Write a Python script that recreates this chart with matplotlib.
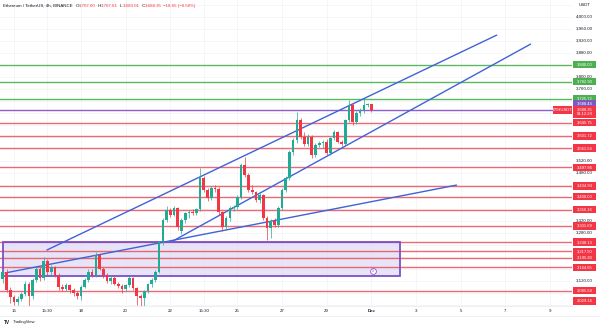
import matplotlib
matplotlib.use('Agg')
import matplotlib.pyplot as plt
import matplotlib.transforms as mtransforms
from matplotlib.patches import Rectangle

# ---------------- data ----------------
opens = [3168, 3125, 3150, 3090, 3065, 3050, 3060, 3075, 3110, 3068,
         3122, 3160, 3128, 3185, 3148, 3165, 3140, 3100, 3092, 3105,
         3088, 3078, 3070, 3100, 3122, 3150, 3138, 3205, 3160, 3138,
         3118, 3128, 3110, 3102, 3092, 3105, 3128, 3095, 3068, 3062,
         3085, 3108, 3122, 3150, 3248, 3322, 3355, 3340, 3362, 3285,
         3322, 3345, 3350, 3345, 3358, 3462, 3422, 3395, 3428, 3425,
         3348, 3298, 3328, 3362, 3366, 3398, 3505, 3472, 3422, 3415,
         3388, 3405, 3328, 3295, 3318, 3305, 3362, 3422, 3462, 3548,
         3588, 3655, 3598, 3575, 3600, 3538, 3572, 3578, 3582, 3545,
         3595, 3615, 3582, 3575, 3655, 3705, 3648, 3678, 3688, 3705,
         3707.00]
highs = [3178, 3160, 3158, 3098, 3072, 3068, 3082, 3118, 3115, 3128,
         3168, 3166, 3198, 3192, 3172, 3170, 3146, 3110, 3112, 3110,
         3095, 3085, 3105, 3128, 3158, 3160, 3215, 3210, 3166, 3144,
         3136, 3134, 3116, 3108, 3110, 3135, 3132, 3100, 3075, 3090,
         3112, 3128, 3155, 3252, 3328, 3370, 3362, 3368, 3366, 3328,
         3350, 3356, 3358, 3362, 3495, 3470, 3428, 3435, 3440, 3432,
         3352, 3335, 3368, 3372, 3405, 3512, 3532, 3478, 3440, 3420,
         3412, 3410, 3335, 3325, 3330, 3368, 3428, 3468, 3555, 3595,
         3682, 3662, 3615, 3608, 3606, 3578, 3585, 3590, 3592, 3600,
         3622, 3620, 3590, 3660, 3722, 3712, 3685, 3695, 3728, 3712,
         3707.61]
lows = [3118, 3112, 3082, 3045, 3038, 3040, 3052, 3068, 3036, 3060,
        3115, 3120, 3122, 3140, 3140, 3132, 3090, 3085, 3086, 3080,
        3070, 3058, 3055, 3094, 3116, 3132, 3132, 3155, 3130, 3112,
        3110, 3104, 3096, 3078, 3085, 3100, 3090, 3038, 3032, 3030,
        3078, 3100, 3115, 3145, 3240, 3315, 3332, 3335, 3290, 3275,
        3312, 3330, 3338, 3340, 3352, 3415, 3385, 3390, 3415, 3340,
        3285, 3288, 3320, 3352, 3358, 3392, 3465, 3415, 3408, 3382,
        3380, 3322, 3255, 3262, 3298, 3300, 3355, 3415, 3455, 3540,
        3580, 3592, 3570, 3568, 3530, 3532, 3565, 3562, 3540, 3538,
        3588, 3578, 3568, 3570, 3650, 3640, 3642, 3670, 3680, 3698,
        3683.01]
closes = [3125, 3150, 3090, 3065, 3050, 3060, 3075, 3110, 3068, 3122,
          3160, 3128, 3185, 3148, 3165, 3140, 3100, 3092, 3105, 3088,
          3078, 3070, 3100, 3122, 3150, 3138, 3205, 3160, 3138, 3118,
          3128, 3110, 3102, 3092, 3105, 3128, 3095, 3068, 3062, 3085,
          3108, 3122, 3150, 3248, 3322, 3355, 3340, 3362, 3298, 3322,
          3345, 3350, 3345, 3358, 3462, 3422, 3395, 3428, 3425, 3348,
          3298, 3328, 3362, 3366, 3398, 3505, 3472, 3422, 3415, 3388,
          3405, 3328, 3295, 3318, 3305, 3362, 3422, 3462, 3548, 3588,
          3655, 3598, 3575, 3600, 3538, 3572, 3578, 3582, 3545, 3595,
          3615, 3582, 3575, 3655, 3705, 3648, 3678, 3688, 3705, 3707,
          3688.35]

xtick_idx = [4, 13, 22, 34, 46, 55, 64, 76, 88, 100, 112, 124, 136, 148]
xtick_labels = ['15', '15:30', '18', '20', '22', '15:30', '25', '27', '29',
                'Dec', '3', '5', '7', '9']

price_ticks = [4000, 3960, 3920, 3880, 3800, 3760, 3520, 3480, 3320, 3280, 3120]
grid_prices = [4040, 4000, 3960, 3920, 3880, 3840, 3800, 3760, 3720, 3680, 3640,
               3600, 3560, 3520, 3480, 3440, 3400, 3360, 3320, 3280, 3240,
               3200, 3160, 3120, 3080, 3040]
green_levels = [3840.00, 3782.90, 3725.72]
red_levels = [3645.75, 3601.72, 3561.54, 3497.86, 3434.94, 3400.00, 3356.16,
              3301.69, 3248.13, 3217.50, 3195.80, 3164.65, 3085.58, 3029.16]
purple_level = 3688.44
last_price = 3688.35

trend_lines = [((12.86, 3221.7), (133.7, 3938.0)),
               ((46.7, 3251.7), (142.8, 3908.0)),
               ((1.58, 3145.0), (122.9, 3438.0))]
box = (1.0, 107.7, 3135.0, 3248.13)

title_name = 'Ethereum / TetherUS, 4h, BINANCE'
title_ohlc = [('O', '3,707.00'), ('H', '3,707.61'), ('L', '3,683.01'), ('C', '3,688.35')]
title_change = '\u221218.65 (\u22120.50%)'

# ---------------- style ----------------
W, H = 600, 328
PANE_R, PANE_B = 572, 306
UP, DN = '#22ab94', '#f23645'
RED_LINE = '#e8505b'
GREEN_LINE = '#5cb860'
PURPLE = '#8e5bd0'
BLUE = '#3f63d6'
TXT = '#131722'
FONT = ['Liberation Sans', 'DejaVu Sans']
plt.rcParams['font.family'] = FONT

fig = plt.figure(figsize=(W / 100, H / 100), dpi=100)
fig.patch.set_facecolor('white')
ax = fig.add_axes([0, (H - PANE_B) / H, PANE_R / W, PANE_B / H])
ax.set_facecolor('white')
for s in ax.spines.values():
    s.set_visible(False)

xmin = 0.9 / 3.722
xmax = (PANE_R + 0.9) / 3.722
ylo, yhi = 3035, 4055
ax.set_xlim(xmin, xmax)
ax.set_ylim(ylo, yhi)

# grid
for p in grid_prices:
    ax.axhline(p, color='#f2f3f6', lw=0.5, zorder=0)
for i in xtick_idx:
    ax.axvline(i, color='#f2f3f6', lw=0.5, zorder=0)

# box
bx0, bx1, by0, by1 = box
ax.add_patch(Rectangle((bx0, by0), bx1 - bx0, by1 - by0, facecolor='#d9d2f3',
                       alpha=0.6, edgecolor='none', zorder=1))
ax.add_patch(Rectangle((bx0, by0), bx1 - bx0, by1 - by0, facecolor='none',
                       edgecolor='#7c4fc8', lw=1.3, zorder=4))

# horizontal levels
for p in green_levels:
    ax.axhline(p, color=GREEN_LINE, lw=1.0, zorder=2)
for p in red_levels:
    ax.axhline(p, color=RED_LINE, lw=1.0, alpha=0.85, zorder=2)
ax.axhline(purple_level, color=PURPLE, lw=1.0, zorder=2)

# trend lines
for (x0, y0), (x1, y1) in trend_lines:
    ax.plot([x0, x1], [y0, y1], color=BLUE, lw=1.0, zorder=5, solid_capstyle='round')

# candles
n = len(closes)
xs = list(range(n))
cols = [UP if c >= o else DN for o, c in zip(opens, closes)]
ax.vlines(xs, lows, highs, colors=cols, lw=0.5, zorder=6)
bottoms = [min(o, c) for o, c in zip(opens, closes)]
heights = [max(abs(c - o), 1.5) for o, c in zip(opens, closes)]
ax.bar(xs, heights, bottom=bottoms, width=0.72, color=cols, edgecolor='none', zorder=7)

# x ticks
ax.set_xticks(xtick_idx)
ax.set_xticklabels(xtick_labels)
ax.tick_params(axis='x', length=0, pad=2.5, labelsize=3.2, labelcolor=TXT)
for lbl in ax.get_xticklabels():
    if lbl.get_text() == 'Dec':
        lbl.set_fontweight('bold')
ax.set_yticks([])

# price axis labels
ytrans = mtransforms.blended_transform_factory(fig.transFigure, ax.transData)
for p in price_ticks:
    ax.text(584.5 / W, p, f'{p:,.2f}', transform=ytrans, ha='center', va='center',
            fontsize=3.2, color=TXT, clip_on=False)
fig.text(585 / W, 1 - 5 / H, 'USDT', ha='center', va='center', fontsize=3.2, color=TXT)

px_per_price = PANE_B / (yhi - ylo)


def badge(p, text, color, dy_px=0.0, x_px=584.5, width_px=23):
    pp = p + dy_px / px_per_price
    pp = max(pp, ylo + 5 / px_per_price)
    ax.add_patch(Rectangle(((x_px - width_px / 2) / W, pp - 3.6 / px_per_price),
                           width_px / W, 7.2 / px_per_price, transform=ytrans,
                           facecolor=color, edgecolor='none', clip_on=False, zorder=10))
    ax.text(x_px / W, pp, text, transform=ytrans, ha='center', va='center',
            fontsize=3.0, color='white', clip_on=False, zorder=11)


for p in green_levels:
    badge(p, f'{p:,.2f}', '#4caf50')
for p in red_levels:
    badge(p, f'{p:,.2f}', DN)
badge(purple_level, f'{purple_level:,.2f}', '#7e57c2', dy_px=6)
badge(last_price, f'{last_price:,.2f}', DN)
badge(last_price, '01:12:29', DN, dy_px=-4.5)
badge(last_price, 'ETHUSDT', DN, x_px=562.5, width_px=19)

# title
renderer = fig.canvas.get_renderer()
xcur = 3 / W
ytit = 1 - 6 / H


def put(s, color, gap=0.0):
    global xcur
    t = fig.text(xcur, ytit, s, ha='left', va='center', fontsize=3.2, color=color)
    bb = t.get_window_extent(renderer=renderer)
    xcur = bb.x1 / W + gap / W
    return t


put(title_name, TXT, gap=3)
for k, v in title_ohlc:
    put(k, TXT)
    put(v, DN, gap=2)
put(title_change, DN)

# event marker
ax.plot([373 / PANE_R], [1 - 271 / PANE_B], transform=ax.transAxes, marker='o',
        ms=4.2, mfc='white', mec='#a050c8', mew=0.6, zorder=12, clip_on=False)
ax.text(373 / PANE_R, 1 - 271 / PANE_B, '4', transform=ax.transAxes, ha='center',
        va='center', fontsize=2.4, color='#a050c8', zorder=13)

# separators
fig.add_artist(plt.Line2D([0, PANE_R / W], [1 - PANE_B / H] * 2, color='#e0e3eb', lw=0.4))
fig.add_artist(plt.Line2D([0, 1], [1 - 316 / H] * 2, color='#e0e3eb', lw=0.4))

# logo
fig.text(4 / W, 1 - 322 / H, 'TV', ha='left', va='center', fontsize=3.4,
         color=TXT, fontweight='bold')
fig.text(13 / W, 1 - 322 / H, 'TradingView', ha='left', va='center', fontsize=3.0, color=TXT)

fig.savefig('out.png', dpi=100, facecolor='white')
